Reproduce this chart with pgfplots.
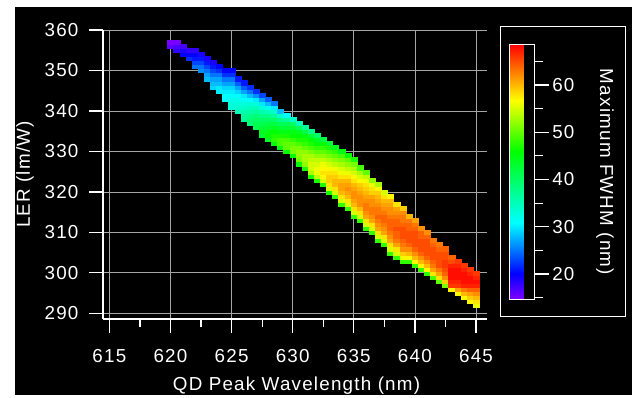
\documentclass[border=0pt]{standalone}
\usepackage{pgfplots}
\pgfplotsset{compat=1.18}
\usepackage{fontspec}
\setmainfont{Liberation Sans}[LetterSpace=6.5]
\definecolor{gridgray}{RGB}{165,165,165}
\pgfplotsset{
  colormap={igorrainbow}{rgb255(0pt)=(128,0,255) rgb255(10pt)=(0,0,255) rgb255(30pt)=(0,255,255) rgb255(58pt)=(0,255,0) rgb255(78pt)=(255,255,0) rgb255(100pt)=(255,0,0)}
}
\newcommand{\lblfont}{\fontsize{18.8bp}{22bp}\selectfont}
\begin{document}
\begin{tikzpicture}[x=1bp,y=1bp]
\fill[white] (0,0) rectangle (632,397);
\fill[black] (15,2) rectangle (632,390);
\begin{axis}[
  at={(103bp,78bp)}, anchor=south west,
  scale only axis, width=384bp, height=289bp,
  xmin=614.48, xmax=645.9, ymin=288.6, ymax=360,
  axis lines*=left,
  axis line style={white, line width=1.2bp, -},
  xtick={615,620,...,645}, ytick={290,300,...,360},
  minor xtick={617.5,622.5,...,642.5},
  tick align=outside,
  major tick length=14bp, minor tick length=8bp,
  tick style={white, line width=1.2bp},
  grid=major,
  major grid style={gridgray, line width=0.8bp},
  ticklabel style={font=\lblfont, text=white},
  xticklabel style={yshift=-13bp},
  yticklabel style={xshift=-7bp},
  /pgf/number format/assume math mode=true,
  /pgf/number format/1000 sep={},
  xlabel={QD Peak Wavelength (nm)},
  ylabel={LER (lm/W)},
  xlabel style={font=\lblfont, text=white, at={(axis description cs:0.5,0)}, anchor=north, yshift=-54bp, xshift=1.5bp},
  ylabel style={font=\lblfont, text=white, at={(axis description cs:0,0.5)}, anchor=center, yshift=78bp},
  colormap name=igorrainbow,
  point meta min=14.65, point meta max=68.6,
  colorbar,
  colorbar style={
    at={(parent axis.north east)}, anchor=north west,
    xshift=14.3bp, yshift=-14.3bp,
    scale only axis, width=25bp, height=255bp,
    axis line style={white, line width=1bp},
    ytick={20,30,...,60}, minor ytick={15,25,...,65},
    ytick pos=right, yticklabel pos=right,
    tick align=outside, major tick length=14bp, minor tick length=8bp,
    tick style={white, line width=1.2bp},
    yticklabel style={font=\lblfont, text=white},
    /pgf/number format/assume math mode=true,
  },
]
\addplot[scatter, only marks, mark=square*, mark size=2.05bp,
  mark options={xscale=1.49, line width=0.15bp},
  scatter/use mapped color={draw=mapped color, fill=mapped color},
  point meta=explicit] table[meta=c] {
x y c
620 356 16
620 357 15
620.5 355 18
620.5 356 17
620.5 357 15
621 354 20
621 355 19
621 356 17
621.5 353 22
621.5 354 20
621.5 355 18
622 351 25
622 352 23
622 353 21
622 354 20
622 355 18
622.5 350 26
622.5 351 25
622.5 352 23
622.5 353 21
622.5 354 19
623 348 28
623 349 27
623 350 25
623 351 23
623 352 21
623 353 19
623.5 346 29
623.5 347 28
623.5 348 27
623.5 349 25
623.5 350 23
623.5 351 21
623.5 352 19
624 345 30
624 346 30
624 347 28
624 348 27
624 349 25
624 350 22
624 351 20
624.5 343 31
624.5 344 31
624.5 345 30
624.5 346 29
624.5 347 27
624.5 348 25
624.5 349 22
624.5 350 20
625 341 33
625 342 33
625 343 32
625 344 31
625 345 30
625 346 29
625 347 27
625 348 25
625 349 22
625 350 20
625.5 340 35
625.5 341 34
625.5 342 33
625.5 343 32
625.5 344 31
625.5 345 29
625.5 346 27
625.5 347 24
625.5 348 21
626 338 37
626 339 37
626 340 36
626 341 34
626 342 33
626 343 31
626 344 30
626 345 27
626 346 24
626 347 21
626.5 337 39
626.5 338 39
626.5 339 38
626.5 340 36
626.5 341 35
626.5 342 33
626.5 343 31
626.5 344 28
626.5 345 25
626.5 346 22
627 336 41
627 337 41
627 338 40
627 339 39
627 340 37
627 341 35
627 342 33
627 343 30
627 344 26
627 345 22
627.5 334 43
627.5 335 44
627.5 336 43
627.5 337 41
627.5 338 40
627.5 339 38
627.5 340 36
627.5 341 33
627.5 342 30
627.5 343 27
627.5 344 23
628 333 44
628 334 46
628 335 45
628 336 43
628 337 42
628 338 40
628 339 38
628 340 35
628 341 32
628 342 28
628 343 24
628.5 332 45
628.5 333 48
628.5 334 47
628.5 335 46
628.5 336 44
628.5 337 42
628.5 338 40
628.5 339 37
628.5 340 34
628.5 341 30
628.5 342 25
629 331 45
629 332 49
629 333 49
629 334 47
629 335 45
629 336 43
629 337 41
629 338 38
629 339 34
629 340 28
629.5 330 46
629.5 331 50
629.5 332 50
629.5 333 49
629.5 334 47
629.5 335 45
629.5 336 43
629.5 337 41
629.5 338 37
629.5 339 31
630 329 46
630 330 51
630 331 51
630 332 50
630 333 48
630 334 46
630 335 45
630 336 43
630 337 40
630 338 34
630.5 327 46
630.5 328 51
630.5 329 52
630.5 330 52
630.5 331 51
630.5 332 49
630.5 333 47
630.5 334 46
630.5 335 44
630.5 336 41
630.5 337 35
631 326 47
631 327 52
631 328 53
631 329 53
631 330 52
631 331 50
631 332 48
631 333 47
631 334 45
631 335 42
631 336 37
631.5 324 47
631.5 325 53
631.5 326 55
631.5 327 55
631.5 328 54
631.5 329 53
631.5 330 51
631.5 331 49
631.5 332 47
631.5 333 46
631.5 334 43
631.5 335 38
632 323 47
632 324 54
632 325 56
632 326 56
632 327 55
632 328 54
632 329 52
632 330 50
632 331 48
632 332 46
632 333 44
632 334 40
632.5 322 47
632.5 323 55
632.5 324 57
632.5 325 58
632.5 326 57
632.5 327 56
632.5 328 54
632.5 329 52
632.5 330 50
632.5 331 48
632.5 332 46
632.5 333 42
633 320 47
633 321 55
633 322 58
633 323 59
633 324 59
633 325 58
633 326 57
633 327 55
633 328 53
633 329 51
633 330 49
633 331 47
633 332 43
633.5 319 48
633.5 320 55
633.5 321 58
633.5 322 60
633.5 323 60
633.5 324 59
633.5 325 58
633.5 326 56
633.5 327 54
633.5 328 52
633.5 329 50
633.5 330 48
633.5 331 44
634 317 48
634 318 55
634 319 58
634 320 60
634 321 61
634 322 61
634 323 60
634 324 58
634 325 56
634 326 55
634 327 53
634 328 51
634 329 49
634 330 45
634.5 316 48
634.5 317 55
634.5 318 58
634.5 319 60
634.5 320 61
634.5 321 62
634.5 322 61
634.5 323 60
634.5 324 58
634.5 325 56
634.5 326 54
634.5 327 52
634.5 328 50
634.5 329 46
635 314 48
635 315 55
635 316 58
635 317 60
635 318 61
635 319 62
635 320 62
635 321 61
635 322 60
635 323 58
635 324 57
635 325 55
635 326 53
635 327 51
635 328 47
635.5 313 48
635.5 314 55
635.5 315 58
635.5 316 60
635.5 317 62
635.5 318 62
635.5 319 62
635.5 320 61
635.5 321 60
635.5 322 59
635.5 323 57
635.5 324 55
635.5 325 53
635.5 326 49
636 311 48
636 312 55
636 313 58
636 314 61
636 315 62
636 316 63
636 317 63
636 318 62
636 319 61
636 320 60
636 321 59
636 322 58
636 323 56
636 324 54
636 325 50
636.5 310 48
636.5 311 55
636.5 312 58
636.5 313 61
636.5 314 62
636.5 315 63
636.5 316 63
636.5 317 62
636.5 318 62
636.5 319 61
636.5 320 59
636.5 321 58
636.5 322 56
636.5 323 52
637 308 48
637 309 55
637 310 58
637 311 61
637 312 62
637 313 63
637 314 64
637 315 63
637 316 63
637 317 62
637 318 61
637 319 60
637 320 59
637 321 57
637 322 53
637.5 307 48
637.5 308 55
637.5 309 58
637.5 310 61
637.5 311 62
637.5 312 63
637.5 313 64
637.5 314 64
637.5 315 63
637.5 316 62
637.5 317 61
637.5 318 60
637.5 319 58
637.5 320 55
638 305 48
638 306 55
638 307 58
638 308 61
638 309 62
638 310 63
638 311 64
638 312 64
638 313 64
638 314 63
638 315 62
638 316 62
638 317 61
638 318 60
638 319 57
638.5 304 48
638.5 305 55
638.5 306 58
638.5 307 61
638.5 308 63
638.5 309 64
638.5 310 64
638.5 311 65
638.5 312 64
638.5 313 64
638.5 314 63
638.5 315 62
638.5 316 61
638.5 317 58
639 303 48
639 304 56
639 305 59
639 306 62
639 307 63
639 308 64
639 309 65
639 310 65
639 311 65
639 312 64
639 313 63
639 314 63
639 315 62
639 316 59
639.5 303 48
639.5 304 57
639.5 305 60
639.5 306 62
639.5 307 64
639.5 308 65
639.5 309 65
639.5 310 65
639.5 311 64
639.5 312 64
639.5 313 63
639.5 314 60
640 302 48
640 303 57
640 304 60
640 305 62
640 306 64
640 307 65
640 308 65
640 309 65
640 310 65
640 311 64
640 312 63
640 313 61
640.5 301 48
640.5 302 57
640.5 303 60
640.5 304 62
640.5 305 64
640.5 306 65
640.5 307 65
640.5 308 65
640.5 309 64
640.5 310 64
640.5 311 62
641 300 48
641 301 57
641 302 60
641 303 62
641 304 64
641 305 65
641 306 65
641 307 65
641 308 65
641 309 64
641 310 62
641.5 299 49
641.5 300 58
641.5 301 61
641.5 302 63
641.5 303 64
641.5 304 65
641.5 305 65
641.5 306 65
641.5 307 64
641.5 308 63
642 298 50
642 299 58
642 300 61
642 301 63
642 302 65
642 303 65
642 304 65
642 305 65
642 306 64
642 307 63
642.5 297 51
642.5 298 59
642.5 299 62
642.5 300 64
642.5 301 65
642.5 302 66
642.5 303 66
642.5 304 65
642.5 305 65
642.5 306 64
643 296 57
643 297 66
643 298 67
643 299 68
643 300 68
643 301 68
643 302 67
643 303 65
643 304 64
643.5 295 57
643.5 296 61
643.5 297 66
643.5 298 67
643.5 299 68
643.5 300 68
643.5 301 68
643.5 302 67
643.5 303 66
644 294 57
644 295 60
644 296 63
644 297 67
644 298 68
644 299 68
644 300 68
644 301 67
644 302 66
644.5 293 57
644.5 294 59
644.5 295 61
644.5 296 64
644.5 297 67
644.5 298 68
644.5 299 68
644.5 300 67
644.5 301 66
645 292 56
645 293 58
645 294 60
645 295 62
645 296 64
645 297 67
645 298 68
645 299 67
645 300 66
};
\end{axis}
\draw[white, line width=1bp] (500,80.3) rectangle (625.7,370.3);
\node[rotate=-90, text=white, font=\lblfont] at (605,225) {Maximum FWHM (nm)};
\end{tikzpicture}
\end{document}
